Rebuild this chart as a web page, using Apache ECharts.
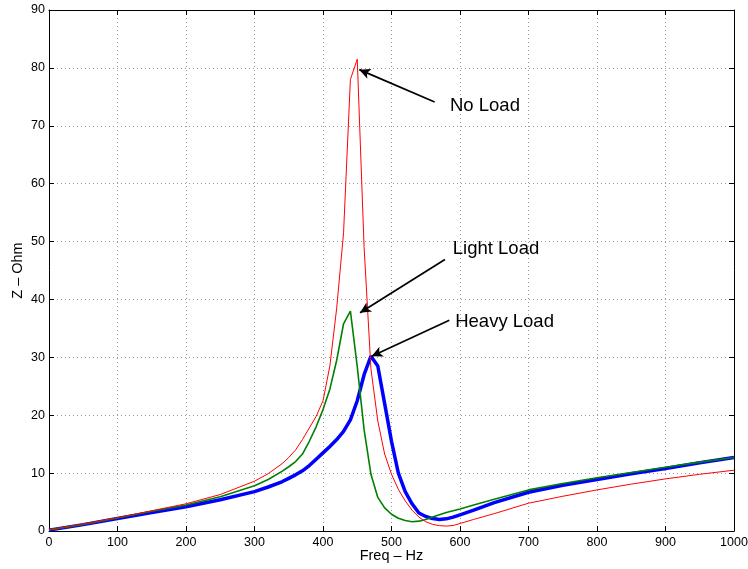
<!DOCTYPE html>
<html>
<head>
<meta charset="utf-8">
<script src="https://cdn.jsdelivr.net/npm/echarts@6/dist/echarts.min.js"></script>
<style>
html,body{margin:0;padding:0;background:#fff;}
#main{width:748px;height:569px;}
</style>
</head>
<body>
<div id="main"></div>
<script>
var freq = [0,50,100,150,200,250,300,320,340,350,360,370,380,390,400,410,420,430,440,450,460,470,480,490,500,510,520,530,540,550,560,570,580,590,600,620,650,700,750,800,850,900,950,1000];
var zNoLoad = [0.2,1.2,2.3,3.5,4.7,6.3,8.6,9.9,11.6,12.7,14.0,15.8,17.8,19.8,22.5,28.5,38.5,51.5,78,81.5,49,28,19,13.3,9.8,7.2,5.2,3.6,2.4,1.6,1.15,0.92,0.85,0.95,1.3,2.0,3.0,4.8,6.0,7.1,8.1,9.0,9.8,10.5];
var zLight = [0.2,1.15,2.25,3.4,4.5,5.9,7.8,8.9,10.3,11.1,12.0,13.3,15.5,18.0,21.0,24.5,29.5,35.8,38.0,28.4,17.5,9.8,5.8,4.0,2.9,2.2,1.8,1.6,1.7,2.0,2.4,2.8,3.2,3.5,3.8,4.5,5.5,7.1,8.2,9.2,10.1,11.0,11.9,12.7];
var zHeavy = [0.15,1.1,2.15,3.2,4.2,5.4,6.8,7.6,8.5,9.1,9.7,10.4,11.3,12.4,13.5,14.6,15.8,17.2,19.2,22.5,27.0,30.2,28.5,22.0,15.5,10.0,6.8,4.7,3.1,2.5,2.15,2.0,2.1,2.4,2.8,3.6,4.9,6.7,7.9,8.9,9.9,10.8,11.8,12.7];
var xTicks = {min:0, max:1000, step:100};
var yTicks = {min:0, max:90, step:10};
var labels = ['No Load','Light Load','Heavy Load'];
// annotation anchors in data units: [tail, tip, text]
var annNo = [[563,74.1],[453,79.7],[585.4,73.35]];
var annLight = [[578,46.9],[454,37.7],[589.5,48.65]];
var annHeavy = [[584.4,36.4],[471,30.2],[593,36.1]];

function pairs(y){ return freq.map(function(f,i){ return [f, y[i]]; }); }
var FONT = 'Liberation Sans, Arial, Helvetica, sans-serif';

function ann(a, text){
  return {
    markLine: {
      silent:true, animation:false,
      symbol:['none','arrow'], symbolSize:[8,11],
      lineStyle:{color:'#000', width:1.7, type:'solid'},
      label:{show:false},
      data:[[{coord:a[0]},{coord:a[1]}]]
    },
    markPoint: {
      silent:true, animation:false,
      data:[{coord:a[2], symbol:'circle', symbolSize:0.001,
        label:{show:true, formatter:text, position:'right', distance:0,
          color:'#000', fontSize:18.5, fontFamily:FONT}}]
    }
  };
}

var chart = echarts.init(document.getElementById('main'), null, {renderer:'canvas'});
var axisCommon = {
  type:'value',
  axisLine:{show:true, onZero:false, lineStyle:{color:'#000', width:1}},
  axisTick:{show:true, inside:true, length:5, lineStyle:{color:'#000'}},
  splitLine:{show:false}
};
var s1 = Object.assign({type:'line', name:labels[2], data:pairs(zHeavy), showSymbol:false, symbol:'none',
  lineStyle:{color:'#0000ff', width:3.5}, z:2}, ann(annHeavy, labels[2]));
var s2 = Object.assign({type:'line', name:labels[1], data:pairs(zLight), showSymbol:false, symbol:'none',
  lineStyle:{color:'#008000', width:1.6}, z:3}, ann(annLight, labels[1]));
var s3 = Object.assign({type:'line', name:labels[0], data:pairs(zNoLoad), showSymbol:false, symbol:'none',
  lineStyle:{color:'#ff0000', width:1}, z:4}, ann(annNo, labels[0]));

function plain(v){ return String(v); }

chart.setOption({
  animation:false,
  backgroundColor:'#fff',
  grid:{left:49, top:10, right:14, bottom:38, containLabel:false, outerBoundsMode:'none'},
  xAxis:[
    Object.assign({}, axisCommon, {
      min:xTicks.min, max:xTicks.max, interval:xTicks.step, position:'bottom',
      name:'Freq – Hz', nameLocation:'middle', nameGap:17, nameMoveOverlap:false,
      nameTextStyle:{color:'#000', fontSize:14.5, fontFamily:FONT},
      axisLabel:{color:'#000', fontSize:12.5, fontFamily:FONT, margin:5, formatter:plain},
      splitLine:{show:true, lineStyle:{color:'#9a9a9a', type:[1,3], width:1}}
    }),
    Object.assign({}, axisCommon, {
      min:xTicks.min, max:xTicks.max, interval:xTicks.step, position:'top',
      axisLabel:{show:false}
    })
  ],
  yAxis:[
    Object.assign({}, axisCommon, {
      min:yTicks.min, max:yTicks.max, interval:yTicks.step, position:'left',
      name:'Z – Ohm', nameLocation:'middle', nameGap:24, nameMoveOverlap:false,
      nameTextStyle:{color:'#000', fontSize:14.5, fontFamily:FONT},
      axisLabel:{color:'#000', fontSize:12.5, fontFamily:FONT, margin:4, formatter:plain},
      splitLine:{show:true, lineStyle:{color:'#9a9a9a', type:[1,3], width:1}}
    }),
    Object.assign({}, axisCommon, {
      min:yTicks.min, max:yTicks.max, interval:yTicks.step, position:'right',
      axisLabel:{show:false}
    })
  ],
  series:[s1, s2, s3]
});
</script>
</body>
</html>
